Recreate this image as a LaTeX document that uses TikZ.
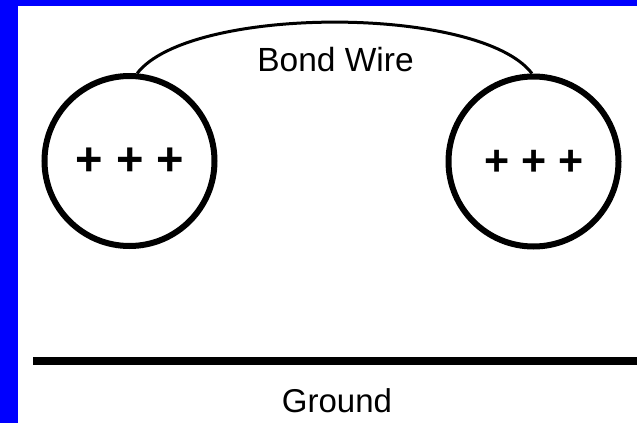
\documentclass[tikz,border=0pt]{standalone}
\usepackage{fontspec}
\setmainfont{Liberation Sans}
\begin{document}
\begin{tikzpicture}[x=1pt,y=-1pt,
  pad/.style={circle,draw=black,line width=6pt,minimum size=170pt,inner sep=0pt},
  wire/.style={draw=black,line width=3pt},
  lbl/.style={anchor=base,inner sep=0pt},
  plus/.style={anchor=base,inner sep=0pt,font=\bfseries}]
\useasboundingbox (0,0) rectangle (637,423);
\fill[white] (0,0) rectangle (637,423);
% blue frame
\fill[blue] (0,0) rectangle (18,423);
\fill[blue] (0,0) rectangle (637,6);
% pads
\node[pad] (L) at (129.5,161) {};
\node[pad] (R) at (533.5,161.5) {};
\node[plus,font=\fontsize{47}{47}\selectfont\bfseries] (Lp) at (130,175.5) {+ + +};
\node[plus,font=\fontsize{43}{43}\selectfont\bfseries] (Rp) at (534.5,175) {+ + +};
% bond wire
\draw[wire] (L.85) .. controls (190,5) and (480,5) .. (R.91);
\node[lbl,font=\fontsize{33.5}{33.5}\selectfont] (bw) at (335.5,71.5) {Bond Wire};
% ground
\coordinate (g1) at (33,361);
\coordinate (g2) at (637,361);
\draw[black,line width=8pt] (g1) -- (g2);
\node[lbl,font=\fontsize{33}{33}\selectfont] (gnd) at (337,412) {Ground};
\end{tikzpicture}
\end{document}
